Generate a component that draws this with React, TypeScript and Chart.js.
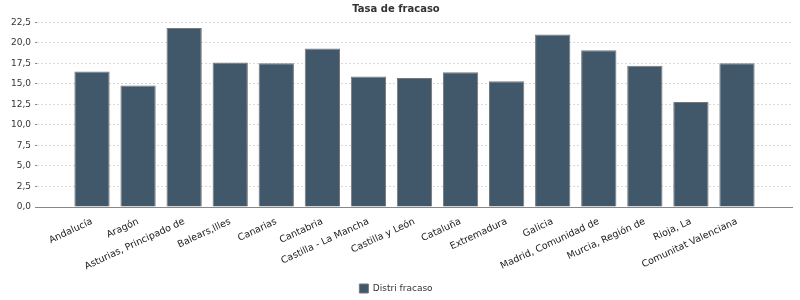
import React, { useEffect, useRef } from 'react';
import { Chart, registerables } from 'chart.js';

Chart.register(...registerables);

const chartTitle = 'Tasa de fracaso';
const seriesLabel = 'Distri fracaso';
const categories = [
  'Andalucía',
  'Aragón',
  'Asturias, Principado de',
  'Balears,Illes',
  'Canarias',
  'Cantabria',
  'Castilla - La Mancha',
  'Castilla y León',
  'Cataluña',
  'Extremadura',
  'Galicia',
  'Madrid, Comunidad de',
  'Murcia, Región de',
  'Rioja, La',
  'Comunitat Valenciana',
];
const values = [16.5, 14.8, 21.8, 17.6, 17.5, 19.3, 15.9, 15.7, 16.4, 15.3, 21.0, 19.1, 17.2, 12.8, 17.5];
const yTickStep = 2.5;
const yMax = 23.2;
const xMargin = 1.194;

const FONT = '"DejaVu Sans", sans-serif';

export default function App() {
  const ref = useRef<HTMLCanvasElement | null>(null);

  useEffect(() => {
    if (!ref.current) return;
    const chart = new Chart(ref.current, {
      type: 'bar',
      data: {
        datasets: [
          {
            label: seriesLabel,
            data: values.map((v, i) => ({ x: i, y: v })),
            backgroundColor: '#41576a',
            borderColor: '#777777',
            borderWidth: 1,
            barPercentage: 0.766,
            categoryPercentage: 1,
          },
        ],
      },
      options: {
        responsive: false,
        animation: false,
        layout: { padding: { left: 0, right: 8, top: 0, bottom: 0 } },
        plugins: {
          title: {
            display: true,
            text: chartTitle,
            color: '#333',
            font: { family: FONT, size: 10, weight: 'bold' },
            padding: { top: 3, bottom: 1.5 },
          },
          legend: {
            position: 'bottom',
            labels: {
              boxWidth: 9,
              boxHeight: 9,
              padding: 4,
              color: '#333',
              font: { family: FONT, size: 9 },
            },
          },
          tooltip: { enabled: false },
        },
        scales: {
          x: {
            type: 'linear',
            min: -xMargin,
            max: categories.length - 1 + xMargin,
            offset: false,
            grid: { display: false, drawTicks: false },
            border: { display: true, color: '#888', width: 1 },
            afterBuildTicks: (scale: any) => {
              scale.ticks = scale.ticks.filter(
                (t: any) => Number.isInteger(t.value) && t.value >= 0 && t.value < categories.length
              );
            },
            afterFit: (scale: any) => {
              scale.height = 73;
            },
            ticks: {
              stepSize: 1,
              includeBounds: false,
              autoSkip: false,
              minRotation: 25,
              maxRotation: 25,
              padding: 9,
              color: '#222',
              font: { family: FONT, size: 9.5 },
              callback: (v: any) => categories[v] ?? '',
            },
          },
          y: {
            min: 0,
            max: yMax,
            grid: {
              color: '#d8d8d8',
              tickColor: '#888',
              tickLength: 2,
              drawTicks: true,
            },
            border: { display: false, dash: [2, 2] },
            afterFit: (scale: any) => {
              scale.width = 37;
            },
            ticks: {
              stepSize: yTickStep,
              includeBounds: false,
              padding: 4,
              color: '#333',
              font: { family: FONT, size: 9 },
              callback: (v: any) => Number(v).toFixed(1).replace('.', ','),
            },
          },
        },
      },
    });
    return () => chart.destroy();
  }, []);

  return (
    <div
      style={{
        position: 'fixed',
        left: 0,
        top: 0,
        width: 800,
        height: 300,
        overflow: 'hidden',
        background: '#fff',
      }}
    >
      <canvas ref={ref} width={800} height={303} style={{ display: 'block' }} />
    </div>
  );
}
